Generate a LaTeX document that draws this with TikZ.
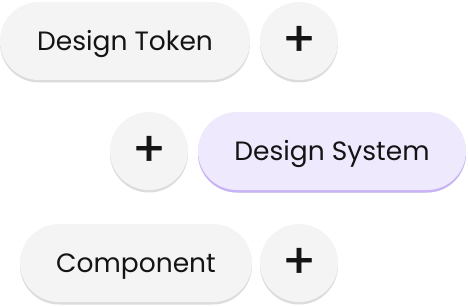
\documentclass[tikz,border=0pt]{standalone}
\usepackage{fontspec}
\setmainfont{Poppins}
\usetikzlibrary{shadows}

\definecolor{pillgray}{HTML}{F4F4F4}
\definecolor{pilledge}{HTML}{DCDCDC}
\definecolor{lavender}{HTML}{EFE9FE}
\definecolor{lavedge}{HTML}{C9B3F6}
\definecolor{ink}{HTML}{141414}

\begin{document}
\begin{tikzpicture}[x=1pt,y=-1pt,
    pill/.style={fill=pillgray, rounded corners=39pt, minimum height=78pt,
      inner sep=0pt, text=ink, font=\fontsize{26.5}{30}\selectfont,
      text height=19pt, text depth=0pt,
      drop shadow={shadow xshift=0pt, shadow yshift=-2.5pt, fill=pilledge, opacity=1}},
    plus/.style={pill, circle, minimum size=78pt, text height=, text depth=,
      font=\fontsize{48}{48}\selectfont\addfontfeatures{FakeBold=1.2}}]
  \useasboundingbox (0,0) rectangle (468,307);

  \node[pill, minimum width=250pt] (token)  at (125,41) {Design Token};
  \node[plus] (plustoken) at (299,41) {\raisebox{-2pt}{+}};

  \node[plus] (plussystem) at (149,151) {\raisebox{-2pt}{+}};
  \node[pill, minimum width=268pt, fill=lavender,
        drop shadow={shadow xshift=0pt, shadow yshift=-2.5pt, fill=lavedge, opacity=1}]
        (system) at (332,151) {Design System};

  \node[pill, minimum width=232pt] (component) at (136,263) {Component};
  \node[plus] (pluscomponent) at (299,263) {\raisebox{-2pt}{+}};
\end{tikzpicture}
\end{document}
